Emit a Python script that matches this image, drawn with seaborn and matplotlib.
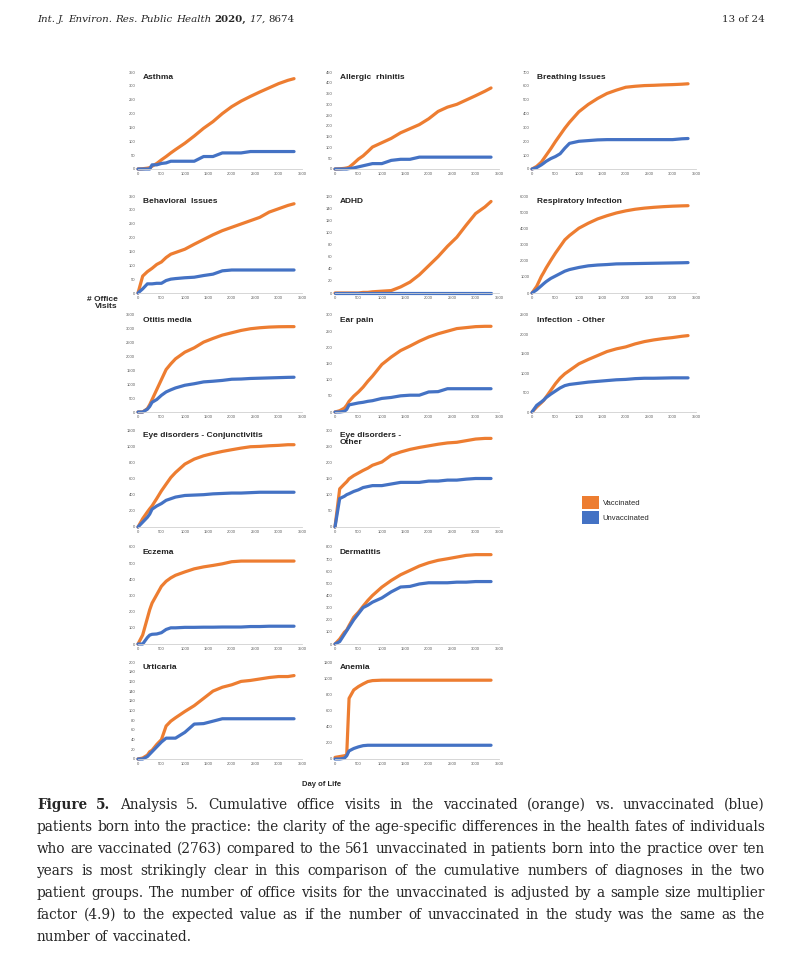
import numpy as np
import pandas as pd
import matplotlib
matplotlib.use('Agg')
import matplotlib.pyplot as plt
import seaborn as sns
from matplotlib.patches import Patch

sns.set_theme(style='white')
plt.rcParams['font.family'] = ['Liberation Sans', 'DejaVu Sans']

# day of life (shared x grid)
days = [0, 100, 200, 250, 300, 400, 500, 600, 700, 800, 1000, 1200, 1400,
        1600, 1800, 2000, 2200, 2400, 2600, 2800, 3000, 3200, 3330]

asthma_vax = [0, 1, 3, 5, 10, 20, 33, 45, 58, 70, 93, 119, 147, 171, 200, 225, 245, 262, 278, 293, 308, 320, 326]
asthma_unvax = [0, 0, 0, 0, 15, 15, 20, 22, 28, 28, 28, 28, 45, 45, 58, 58, 58, 63, 63, 63, 63, 63, 63]
rhinitis_vax = [0, 1, 3, 5, 8, 26, 46, 61, 81, 102, 122, 142, 168, 187, 206, 233, 267, 287, 300, 320, 340, 361, 376]
rhinitis_unvax = [0, 0, 0, 0, 2, 5, 10, 15, 20, 25, 25, 40, 45, 45, 55, 55, 55, 55, 55, 55, 55, 55, 55]
breathing_vax = [0, 19, 50, 74, 98, 146, 198, 246, 294, 337, 413, 466, 509, 545, 569, 590, 597, 602, 604, 607, 609, 612, 615]
breathing_unvax = [0, 10, 30, 42, 55, 75, 90, 110, 150, 185, 200, 205, 210, 212, 212, 212, 212, 212, 212, 212, 212, 218, 220]
behavioral_vax = [0, 61, 77, 83, 89, 103, 112, 128, 140, 146, 158, 176, 193, 210, 225, 237, 249, 261, 273, 292, 304, 316, 322]
behavioral_unvax = [0, 15, 33, 33, 33, 35, 35, 45, 50, 52, 55, 57, 63, 68, 80, 83, 83, 83, 83, 83, 83, 83, 83]
adhd_vax = [0, 0, 0, 0, 0, 0, 0, 1, 1, 2, 3, 4, 10, 18, 30, 45, 60, 77, 92, 112, 131, 142, 151]
adhd_unvax = [0, 0, 0, 0, 0, 0, 0, 0, 0, 0, 0, 0, 0, 0, 0, 0, 0, 0, 0, 0, 0, 0, 0]
resp_vax = [0, 411, 1027, 1274, 1541, 2014, 2466, 2877, 3288, 3555, 4007, 4315, 4582, 4780, 4950, 5080, 5180, 5250, 5300, 5340, 5370, 5390, 5400]
resp_unvax = [0, 200, 450, 580, 700, 900, 1050, 1200, 1350, 1450, 1580, 1680, 1730, 1760, 1800, 1810, 1820, 1830, 1840, 1850, 1860, 1870, 1880]
otitis_vax = [0, 0, 120, 265, 446, 808, 1170, 1532, 1737, 1918, 2159, 2316, 2521, 2654, 2775, 2859, 2943, 3004, 3040, 3064, 3076, 3080, 3080]
otitis_unvax = [0, 0, 100, 200, 350, 450, 603, 724, 800, 868, 965, 1020, 1086, 1110, 1140, 1182, 1190, 1210, 1220, 1230, 1240, 1250, 1254]
earpain_vax = [0, 4, 12, 21, 33, 49, 62, 77, 95, 111, 147, 170, 190, 204, 219, 232, 242, 250, 258, 261, 264, 265, 265]
earpain_unvax = [0, 0, 2, 8, 22, 25, 28, 30, 33, 35, 42, 45, 50, 52, 52, 62, 63, 72, 72, 72, 72, 72, 72]
infection_vax = [0, 128, 240, 300, 385, 556, 728, 873, 985, 1070, 1241, 1353, 1455, 1558, 1627, 1678, 1755, 1815, 1858, 1892, 1918, 1952, 1969]
infection_unvax = [0, 171, 260, 310, 370, 460, 540, 620, 680, 710, 740, 770, 790, 810, 830, 840, 860, 870, 870, 875, 880, 880, 880]
conj_vax = [0, 103, 186, 225, 261, 352, 447, 530, 612, 674, 778, 840, 881, 910, 935, 956, 976, 993, 997, 1005, 1010, 1018, 1018]
conj_unvax = [0, 60, 120, 160, 220, 260, 290, 330, 350, 370, 390, 395, 400, 410, 415, 420, 420, 425, 430, 430, 430, 430, 430]
eyeother_vax = [0, 118, 133, 140, 149, 159, 167, 175, 182, 191, 201, 222, 232, 240, 246, 251, 256, 260, 262, 267, 272, 274, 274]
eyeother_unvax = [0, 88, 95, 100, 103, 110, 115, 122, 125, 128, 128, 133, 138, 138, 138, 142, 142, 145, 145, 148, 150, 150, 150]
eczema_vax = [0, 56, 160, 212, 253, 305, 357, 388, 409, 425, 446, 465, 477, 486, 496, 509, 513, 513, 513, 513, 513, 513, 513]
eczema_unvax = [0, 0, 40, 55, 60, 62, 70, 90, 100, 100, 103, 103, 104, 104, 105, 105, 105, 108, 108, 110, 110, 110, 110]
derm_vax = [0, 41, 97, 115, 152, 221, 262, 312, 359, 400, 469, 524, 571, 607, 643, 670, 690, 703, 717, 731, 737, 737, 737]
derm_unvax = [0, 20, 80, 110, 140, 200, 250, 300, 320, 345, 380, 430, 470, 475, 495, 505, 505, 505, 510, 510, 515, 515, 515]
urticaria_vax = [0, 2, 8, 15, 18, 30, 40, 68, 78, 85, 98, 110, 125, 140, 148, 153, 160, 162, 165, 168, 170, 170, 172]
urticaria_unvax = [0, 0, 5, 10, 15, 25, 35, 43, 43, 43, 55, 72, 73, 78, 83, 83, 83, 83, 83, 83, 83, 83, 83]
anemia_vax = [20, 30, 40, 50, 750, 854, 896, 929, 958, 970, 975, 975, 975, 975, 975, 975, 975, 975, 975, 975, 975, 975, 975]
anemia_unvax = [0, 0, 10, 40, 100, 130, 150, 165, 170, 170, 170, 170, 170, 170, 170, 170, 170, 170, 170, 170, 170, 170, 170]

titles = ['Asthma', 'Allergic  rhinitis', 'Breathing Issues',
          'Behavioral  Issues', 'ADHD', 'Respiratory Infection',
          'Otitis media', 'Ear pain', 'Infection  - Other',
          'Eye disorders - Conjunctivitis', 'Eye disorders -\nOther',
          'Eczema', 'Dermatitis', 'Urticaria', 'Anemia']
vax_series = [asthma_vax, rhinitis_vax, breathing_vax, behavioral_vax, adhd_vax, resp_vax,
              otitis_vax, earpain_vax, infection_vax, conj_vax, eyeother_vax,
              eczema_vax, derm_vax, urticaria_vax, anemia_vax]
unvax_series = [asthma_unvax, rhinitis_unvax, breathing_unvax, behavioral_unvax, adhd_unvax, resp_unvax,
                otitis_unvax, earpain_unvax, infection_unvax, conj_unvax, eyeother_unvax,
                eczema_unvax, derm_unvax, urticaria_unvax, anemia_unvax]
y_max = [350, 450, 700, 350, 160, 6000, 3500, 300, 2500, 1200, 300, 600, 800, 200, 1200]
y_step = [50, 50, 100, 50, 20, 1000, 500, 50, 500, 200, 50, 100, 100, 20, 200]

palette = {'Vaccinated': '#ED7D31', 'Unvaccinated': '#4472C4'}

W, H = 800, 957
fig = plt.figure(figsize=(W / 100, H / 100), dpi=100)
fig.patch.set_facecolor('white')

# panel layout (pixels)
col_left = [138, 335, 532]
row_base = [169, 293, 412, 527, 644, 759]
grid_pos = [(0, 0), (1, 0), (2, 0), (0, 1), (1, 1), (2, 1), (0, 2), (1, 2), (2, 2),
            (0, 3), (1, 3), (0, 4), (1, 4), (0, 5), (1, 5)]
pw, ph = 164, 97

for i, title in enumerate(titles):
    c, r = grid_pos[i]
    ax = fig.add_axes([col_left[c] / W, 1 - row_base[r] / H, pw / W, ph / H])
    n = len(days)
    df = pd.DataFrame({'day': days * 2,
                       'visits': vax_series[i] + unvax_series[i],
                       'group': ['Vaccinated'] * n + ['Unvaccinated'] * n})
    sns.lineplot(data=df, x='day', y='visits', hue='group', palette=palette,
                 hue_order=['Vaccinated', 'Unvaccinated'], linewidth=2.3,
                 legend=False, ax=ax)
    for ln in ax.lines:
        ln.set_clip_on(False)
        ln.set_solid_capstyle('round')
    ax.set_xlim(0, 3500)
    ax.set_ylim(0, y_max[i])
    ax.set_xticks(np.arange(0, 3501, 500))
    ax.set_yticks(np.arange(0, y_max[i] + 1, y_step[i]))
    ax.set_xlabel('')
    ax.set_ylabel('')
    ax.tick_params(labelsize=3, colors='#595959', length=0, pad=2)
    for s in ['top', 'right', 'left']:
        ax.spines[s].set_visible(False)
    ax.spines['bottom'].set_color('#d0d0d0')
    ax.spines['bottom'].set_linewidth(0.6)
    ax.text(0.03, 0.98, title, transform=ax.transAxes, ha='left', va='top',
            fontsize=6, fontweight='bold', color='#222222', linespacing=1.1)

# legend
handles = [Patch(facecolor=palette['Vaccinated'], edgecolor='none'),
           Patch(facecolor=palette['Unvaccinated'], edgecolor='none')]
fig.legend(handles, ['Vaccinated', 'Unvaccinated'], loc='upper left',
           bbox_to_anchor=(579 / W, 1 - 493 / H), frameon=False, fontsize=5.5,
           handlelength=2.2, handleheight=2.2, labelspacing=0.3, handletextpad=0.5,
           borderaxespad=0)

fig.text(118 / W, 1 - 303 / H, '# Office\nVisits', ha='right', va='center',
         fontsize=6, fontweight='bold', linespacing=1.0)
fig.text(322 / W, 1 - 785 / H, 'Day of Life', ha='center', va='center',
         fontsize=5.5, fontweight='bold')

# header and caption (serif, placed word by word)
renderer = fig.canvas.get_renderer()
serif = ['DejaVu Serif']


def put_line(words, x0, x1, y, size, justify=True):
    objs = []
    total = 0
    for w, weight, style in words:
        t = fig.text(0, 1 - y / H, w, fontsize=size, family=serif, weight=weight,
                     style=style, va='center', ha='left')
        total += t.get_window_extent(renderer).width
        objs.append(t)
    if justify and len(objs) > 1:
        gap = (x1 - x0 - total) / (len(objs) - 1)
    else:
        gap = 0.3 * size * 100 / 72
    x = x0
    for t in objs:
        t.set_x(x / W)
        x += t.get_window_extent(renderer).width + gap


head = [('Int.', 'normal', 'italic'), ('J.', 'normal', 'italic'), ('Environ.', 'normal', 'italic'),
        ('Res.', 'normal', 'italic'), ('Public', 'normal', 'italic'), ('Health', 'normal', 'italic'),
        ('2020,', 'bold', 'normal'), ('17,', 'normal', 'italic'), ('8674', 'normal', 'normal')]
put_line(head, 37, 300, 19, 7.4, justify=False)
fig.text(765 / W, 1 - 19 / H, '13 of 24', fontsize=7.4, family=serif, ha='right', va='center')

caption_lines = [
    'Analysis 5. Cumulative office visits in the vaccinated (orange) vs. unvaccinated (blue)',
    'patients born into the practice: the clarity of the age-specific differences in the health fates of individuals',
    'who are vaccinated (2763) compared to the 561 unvaccinated in patients born into the practice over ten',
    'years is most strikingly clear in this comparison of the cumulative numbers of diagnoses in the two',
    'patient groups. The number of office visits for the unvaccinated is adjusted by a sample size multiplier',
    'factor (4.9) to the expected value as if the number of unvaccinated in the study was the same as the',
    'number of vaccinated.',
]
for k, line in enumerate(caption_lines):
    words = [(w, 'normal', 'normal') for w in line.split()]
    if k == 0:
        words = [('Figure', 'bold', 'normal'), ('5.', 'bold', 'normal')] + words
    put_line(words, 37, 765, 805 + 22 * k, 9.8, justify=(k < len(caption_lines) - 1))

fig.savefig('out.png', dpi=100, facecolor='white')
